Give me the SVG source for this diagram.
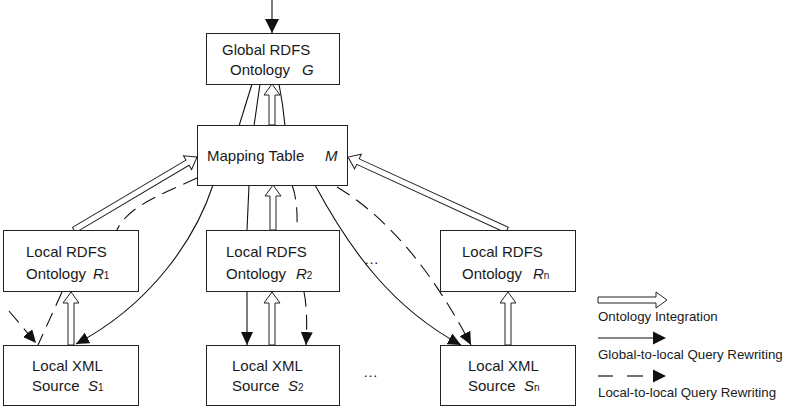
<svg xmlns="http://www.w3.org/2000/svg" width="790" height="406" viewBox="0 0 790 406">
<style>
  text { font-family: "Liberation Sans", Arial, sans-serif; fill: #1a1a1a; }
  .n { font-size: 15px; }
  .i { font-style: italic; }
  .sub { font-size: 10px; font-style: normal; }
  .lg { font-size: 13.3px; }
  .box { fill: #ffffff; stroke: #222; stroke-width: 1; }
  .solid { fill: none; stroke: #111; stroke-width: 1.1; }
  .dash { fill: none; stroke: #111; stroke-width: 1.1; stroke-dasharray: 15 8; }
  .hollow { fill: #ffffff; stroke: #222; stroke-width: 1; stroke-linejoin: miter; }
</style>
<defs>
  <marker id="head" markerUnits="userSpaceOnUse" markerWidth="14" markerHeight="12" refX="13" refY="6" orient="auto">
    <path d="M0,0 L13,6 L0,12 z" fill="#111" stroke="none"/>
  </marker>
  <marker id="headBig" markerUnits="userSpaceOnUse" markerWidth="15" markerHeight="14" refX="14" refY="7" orient="auto">
    <path d="M0,0 L14,7 L0,14 z" fill="#111" stroke="none"/>
  </marker>
</defs>

<g id="connectors">
  <!-- incoming query -->
  <path class="solid" d="M272,0 L272,33" marker-end="url(#headBig)"/>
  <!-- G to M solid lines -->
  <path class="solid" d="M252,84 L239,126"/>
  <path class="solid" d="M260,84 L254,126"/>
  <path class="solid" d="M279,84 Q283,104 285,126"/>
  <!-- M to S1 solid -->
  <path class="solid" d="M213,185 C195,240 150,305 76,344" marker-end="url(#head)"/>
  <!-- M to R2 to S2 solid -->
  <path class="solid" d="M249,185 L247,230"/>
  <path class="solid" d="M247,292 L247,345" marker-end="url(#head)"/>
  <!-- M to Sn solid -->
  <path class="solid" d="M315,185 C350,250 392,308 461,345" marker-end="url(#head)"/>
  <!-- dashed M to R1 / S1 -->
  <path class="dash" d="M197,178 C155,197 126,208 116,232"/>
  <path class="dash" d="M9,311 L36,343" marker-end="url(#head)"/>
  <path class="dash" d="M62,292 L38,345"/>
  <!-- dashed M to R2 to S2 -->
  <path class="dash" d="M292,185 Q298,200 297,230"/>
  <path class="dash" d="M304,292 Q308,312 306,345" marker-end="url(#head)"/>
  <!-- dashed M to Sn -->
  <path class="dash" d="M337,187 Q412,232 471,345" marker-end="url(#head)"/>

  <!-- hollow arrows (ontology integration) -->
  <polygon class="hollow" transform="translate(74,230) rotate(-30.68)" points="0,-3 132,-3 132,-8 143,0 132,8 132,3 0,3"/>
  <polygon class="hollow" transform="translate(507,230) rotate(-155.34)" points="0,-3 164,-3 164,-8 175,0 164,8 164,3 0,3"/>
  <polygon class="hollow" transform="translate(273,230) rotate(-90)" points="0,-3 34,-3 34,-8 45,0 34,8 34,3 0,3"/>
  <polygon class="hollow" transform="translate(272,125) rotate(-90)" points="0,-3 30,-3 30,-8 41,0 30,8 30,3 0,3"/>
  <polygon class="hollow" transform="translate(71,345) rotate(-90)" points="0,-3 42,-3 42,-8 53,0 42,8 42,3 0,3"/>
  <polygon class="hollow" transform="translate(272,345) rotate(-90)" points="0,-3 42,-3 42,-8 53,0 42,8 42,3 0,3"/>
  <polygon class="hollow" transform="translate(508,345) rotate(-90)" points="0,-3 42,-3 42,-8 53,0 42,8 42,3 0,3"/>
</g>

<g id="G">
  <rect class="box" x="206.5" y="33.5" width="133" height="51"/>
  <text class="n" x="222" y="55">Global RDFS</text>
  <text class="n" x="230" y="75">Ontology</text>
  <text class="n i" x="302" y="75">G</text>
</g>
<g id="M">
  <rect class="box" x="197.5" y="125.5" width="150" height="60"/>
  <text class="n" x="207" y="161">Mapping Table</text>
  <text class="n i" x="325" y="161">M</text>
</g>
<g id="R1">
  <rect class="box" x="3.5" y="230.5" width="135" height="61"/>
  <text class="n" x="26" y="257">Local RDFS</text>
  <text class="n" x="26" y="279">Ontology</text>
  <text class="n i" x="93" y="279">R<tspan class="sub">1</tspan></text>
</g>
<g id="R2">
  <rect class="box" x="206.5" y="230.5" width="133" height="61"/>
  <text class="n" x="226" y="257">Local RDFS</text>
  <text class="n" x="226" y="279">Ontology</text>
  <text class="n i" x="296" y="279">R<tspan class="sub">2</tspan></text>
</g>
<g id="Rn">
  <rect class="box" x="440.5" y="230.5" width="135" height="61"/>
  <text class="n" x="462" y="257">Local RDFS</text>
  <text class="n" x="462" y="279">Ontology</text>
  <text class="n i" x="533" y="279">R<tspan class="sub">n</tspan></text>
</g>
<g id="S1">
  <rect class="box" x="3.5" y="345.5" width="135" height="60"/>
  <text class="n" x="32" y="371">Local XML</text>
  <text class="n" x="32" y="391">Source</text>
  <text class="n i" x="88" y="391">S<tspan class="sub">1</tspan></text>
</g>
<g id="S2">
  <rect class="box" x="206.5" y="345.5" width="133" height="60"/>
  <text class="n" x="232" y="371">Local XML</text>
  <text class="n" x="232" y="391">Source</text>
  <text class="n i" x="288" y="391">S<tspan class="sub">2</tspan></text>
</g>
<g id="Sn">
  <rect class="box" x="440.5" y="345.5" width="135" height="60"/>
  <text class="n" x="468" y="371">Local XML</text>
  <text class="n" x="468" y="391">Source</text>
  <text class="n i" x="524" y="391">S<tspan class="sub">n</tspan></text>
</g>
<g id="ellipses">
  <text class="n" x="364" y="264">…</text>
  <text class="n" x="363" y="377">…</text>
</g>
<g id="legend">
  <polygon class="hollow" transform="translate(598,300)" points="0,-3 58,-3 58,-8 69,0 58,8 58,3 0,3"/>
  <text class="lg" x="598" y="321">Ontology Integration</text>
  <line x1="598" y1="338" x2="655" y2="338" stroke="#111" stroke-width="1.2"/>
  <polygon points="653,331.5 666,338 653,344.5" fill="#111"/>
  <text class="lg" x="598" y="359">Global-to-local Query Rewriting</text>
  <line x1="598" y1="376" x2="613" y2="376" stroke="#111" stroke-width="1.2"/>
  <line x1="627" y1="376" x2="643" y2="376" stroke="#111" stroke-width="1.2"/>
  <polygon points="653,369.5 666,376 653,382.5" fill="#111"/>
  <text class="lg" x="598" y="397">Local-to-local Query Rewriting</text>
</g>
</svg>
